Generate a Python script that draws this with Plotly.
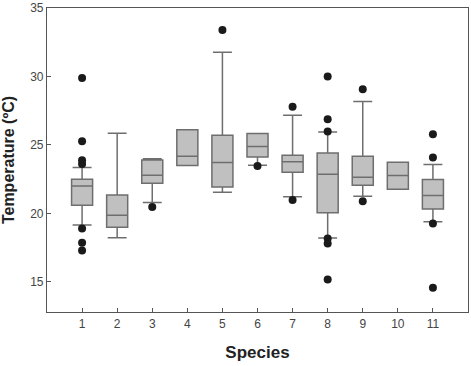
import plotly.graph_objects as go

species = [1, 2, 3, 4, 5, 6, 7, 8, 9, 10, 11]
q1 = [20.6, 18.98, 22.2, 23.49, 21.93, 24.12, 23.0, 20.05, 22.05, 21.76, 20.32]
median = [22.0, 19.86, 22.78, 24.17, 23.71, 24.88, 23.78, 22.86, 22.64, 22.76, 21.3]
q3 = [22.5, 21.34, 23.9, 26.1, 25.7, 25.83, 24.25, 24.42, 24.17, 23.73, 22.47]
lowerfence = [19.15, 18.22, 20.79, 23.49, 21.54, 23.52, 21.22, 18.2, 21.25, 21.76, 19.39]
upperfence = [23.35, 25.86, 24.0, 26.1, 31.76, 25.83, 27.17, 25.95, 28.17, 23.73, 23.57]

outlier_x = [1, 1, 1, 1, 1, 1, 1,
             3,
             5,
             6,
             7, 7,
             8, 8, 8, 8, 8, 8,
             9, 9,
             11, 11, 11, 11]
outlier_y = [29.88, 25.27, 23.88, 23.6, 18.9, 17.86, 17.3,
             20.46,
             33.4,
             23.46,
             27.78, 20.98,
             30.0, 26.88, 25.98, 18.17, 17.8, 15.18,
             29.07, 20.88,
             25.78, 24.08, 19.27, 14.57]

fig = go.Figure()
fig.add_trace(go.Box(
    x=species, q1=q1, median=median, q3=q3,
    lowerfence=lowerfence, upperfence=upperfence,
    width=0.6, whiskerwidth=0.9,
    fillcolor="#c0c0c0",
    line=dict(color="#6e6e6e", width=1.5),
    boxpoints=False, showlegend=False,
))
fig.add_trace(go.Scatter(
    x=outlier_x, y=outlier_y, mode="markers",
    marker=dict(color="#1a1a1a", size=8),
    showlegend=False,
))

axis_common = dict(
    showgrid=False, zeroline=False, showline=True, mirror=True,
    linecolor="#555555", linewidth=1.2, automargin=False,
    ticks="inside", ticklen=4, tickcolor="#555555",
    tickfont=dict(family="Liberation Sans, Arial", size=12, color="#444444"),
)
fig.update_layout(
    width=471, height=366,
    margin=dict(l=47, r=3, t=8, b=54),
    paper_bgcolor="white", plot_bgcolor="white",
    xaxis=dict(range=[0, 12], tickmode="array", tickvals=species,
               ticktext=[str(s) for s in species],
               title=dict(text="<b>Species</b>", standoff=16,
                          font=dict(family="Liberation Sans, Arial", size=17, color="#222222")),
               **axis_common),
    yaxis=dict(range=[12.8, 35], tickvals=[15, 20, 25, 30, 35],
               title=dict(text="<b>Temperature (ºC)</b>", standoff=12,
                          font=dict(family="Liberation Sans, Arial", size=16, color="#222222")),
               **axis_common),
)
fig.write_html("out.html", config={"displayModeBar": False},
               post_script="document.body.style.margin='0';")
